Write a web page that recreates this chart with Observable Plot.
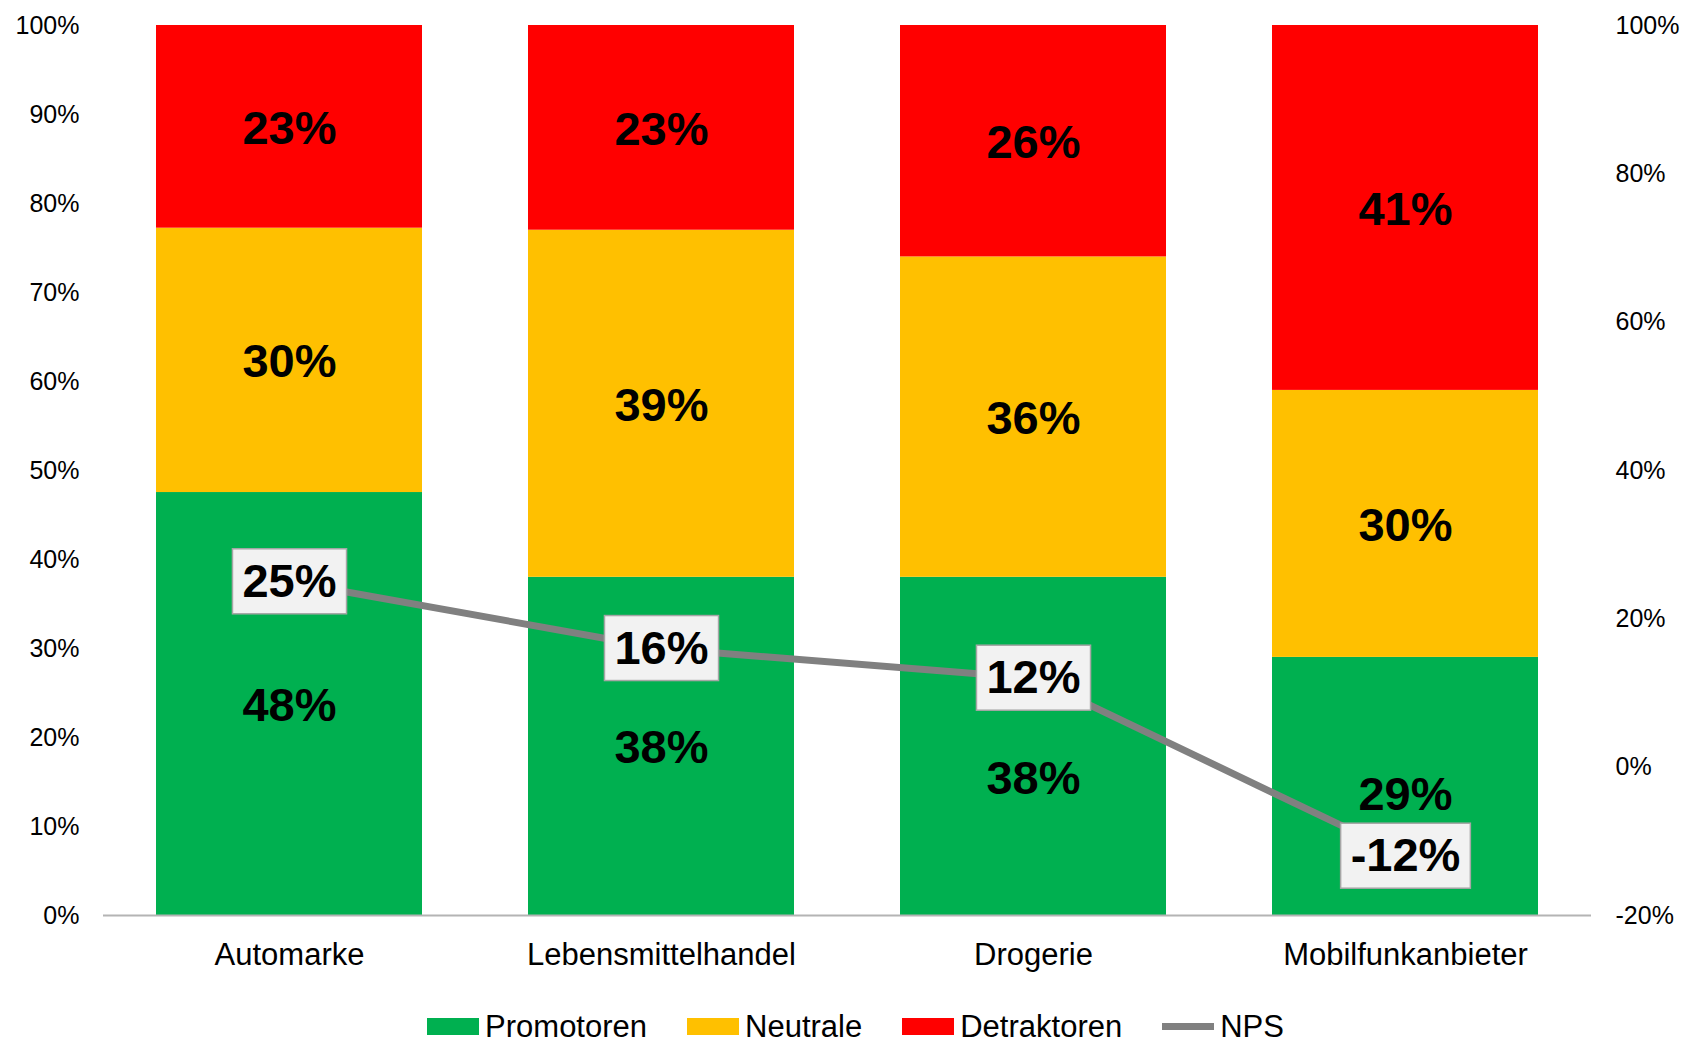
<!DOCTYPE html>
<html>
<head>
<meta charset="utf-8">
<script src="https://cdn.jsdelivr.net/npm/d3@7"></script>
<script src="https://cdn.jsdelivr.net/npm/@observablehq/plot@0.6"></script>
<style>
  html, body { margin: 0; padding: 0; background: #fff; overflow: hidden; }
  body { font-family: "Liberation Sans", Arial, sans-serif; width: 1685px; height: 1043px; }
  #chart svg { display: block; }
  #legend { display: flex; justify-content: center; align-items: center; height: 53px; padding-top: 19px; box-sizing: border-box; padding-left: 26px; font-size: 31px; line-height: 31px; color: #000; }
  .item { display: flex; align-items: center; margin: 0 20px; }
  .sw { width: 52px; height: 17px; margin-right: 6px; }
  .ln { width: 52px; height: 7px; margin-right: 6px; }
</style>
</head>
<body>
<div id="chart"></div>
<div id="legend"></div>
<script>
const categories = ["Automarke", "Lebensmittelhandel", "Drogerie", "Mobilfunkanbieter"];
const seriesNames = ["Promotoren", "Neutrale", "Detraktoren"];
const promotoren = [48, 38, 38, 29];
const neutrale = [30, 39, 36, 30];
const detraktoren = [23, 23, 26, 41];
const nps = [25, 16, 12, -12];
const npsName = "NPS";
const leftTicks = [0, 10, 20, 30, 40, 50, 60, 70, 80, 90, 100];
const rightTicks = [-20, 0, 20, 40, 60, 80, 100];
const colors = ["#00B050", "#FFC000", "#FF0000"];
const npsColor = "#808080";

const seriesValues = [promotoren, neutrale, detraktoren];
const rows = [];
seriesNames.forEach((s, si) => categories.forEach((c, ci) => rows.push({category: c, series: s, value: seriesValues[si][ci]})));

const rMin = d3.min(rightTicks), rMax = d3.max(rightTicks);
const toLeft = v => (v - rMin) / (rMax - rMin);
const fromLeft = d => d * (rMax - rMin) + rMin;
const npsRows = categories.map((c, i) => ({category: c, value: nps[i]}));

// label nudges (as in the reference) for a couple of segments
const nudge = {"Drogerie|Promotoren": 33, "Mobilfunkanbieter|Promotoren": 9};
const key = d => d.category + "|" + d.series;

const stackOpts = {x: "category", y: "value", z: "series", offset: "normalize"};
const labelCommon = {fill: "#000", fontSize: 47, fontWeight: "bold", dy: 2};

const chart = Plot.plot({
  width: 1685,
  height: 990,
  marginTop: 25,
  marginBottom: 75,
  marginLeft: 103,
  marginRight: 94,
  style: {fontFamily: "'Liberation Sans', Arial, sans-serif", background: "#fff", color: "#000"},
  x: {domain: categories, paddingInner: 0.285, paddingOuter: 0.1425, align: 0.5, label: null},
  y: {domain: [0, 1], label: null},
  color: {domain: seriesNames, range: colors},
  marks: [
    Plot.barY(rows, Plot.stackY({...stackOpts, fill: "series"})),
    Plot.ruleY([0], {stroke: "#b4b4b4", strokeWidth: 2}),
    Plot.text(rows, Plot.stackY({...stackOpts, ...labelCommon, text: d => nudge[key(d)] ? "" : d.value + "%"})),
    Plot.text(rows, Plot.stackY({...stackOpts, ...labelCommon, dy: 33, text: d => key(d) === "Drogerie|Promotoren" ? d.value + "%" : ""})),
    Plot.text(rows, Plot.stackY({...stackOpts, ...labelCommon, dy: 9, text: d => key(d) === "Mobilfunkanbieter|Promotoren" ? d.value + "%" : ""})),
    Plot.line(npsRows, {x: "category", y: d => toLeft(d.value), stroke: npsColor, strokeWidth: 7}),
    Plot.text(npsRows, {x: "category", y: d => toLeft(d.value), text: d => d.value + "%", fill: "#000", fontSize: 47, fontWeight: "bold", ariaDescription: "nps-label"}),
    Plot.axisY(leftTicks.map(v => v / 100), {anchor: "left", tickSize: 0, tickPadding: 24, fontSize: 25, tickFormat: d => Math.round(d * 100) + "%", label: null}),
    Plot.axisY(rightTicks.map(toLeft), {anchor: "right", tickSize: 0, tickPadding: 24, fontSize: 25, tickFormat: d => Math.round(fromLeft(d)) + "%", label: null}),
    Plot.axisX({tickSize: 0, tickPadding: 27, fontSize: 31, label: null})
  ]
});
document.getElementById("chart").append(chart);

// boxes behind NPS labels
const g = chart.querySelector('g[aria-description="nps-label"]');
if (g) {
  g.querySelectorAll("text").forEach(t => {
    const b = t.getBBox();
    const w = b.width + 20, h = 65;
    const cx = b.x + b.width / 2, cy = b.y + b.height / 2 + 1;
    const r = document.createElementNS("http://www.w3.org/2000/svg", "rect");
    r.setAttribute("x", cx - w / 2);
    r.setAttribute("y", cy - h / 2);
    r.setAttribute("width", w);
    r.setAttribute("height", h);
    r.setAttribute("fill", "#f2f2f2");
    r.setAttribute("stroke", "#a6a6a6");
    r.setAttribute("stroke-width", "1.5");
    const tr = t.getAttribute("transform");
    if (tr) r.setAttribute("transform", tr);
    g.insertBefore(r, t);
  });
}

// legend
const legend = document.getElementById("legend");
seriesNames.forEach((s, i) => {
  const it = document.createElement("div");
  it.className = "item";
  it.innerHTML = `<div class="sw" style="background:${colors[i]}"></div><span>${s}</span>`;
  legend.append(it);
});
const it = document.createElement("div");
it.className = "item";
it.innerHTML = `<div class="ln" style="background:${npsColor}"></div><span>${npsName}</span>`;
legend.append(it);
</script>
</body>
</html>
